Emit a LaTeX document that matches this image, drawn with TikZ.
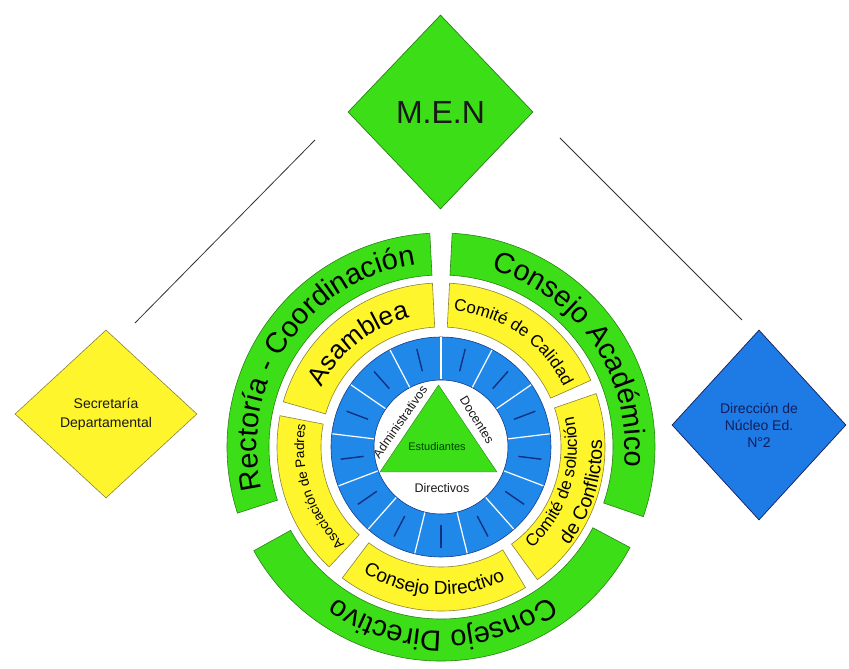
\documentclass[tikz,border=0pt]{standalone}
\usepackage{fontspec}
\setmainfont{Liberation Sans}
\usetikzlibrary{shapes.geometric,decorations.text}
\definecolor{gfill}{RGB}{60,222,24}
\definecolor{gline}{RGB}{40,130,20}
\definecolor{yfill}{RGB}{255,245,45}
\definecolor{yline}{RGB}{140,130,60}
\definecolor{bfill}{RGB}{32,136,232}
\definecolor{bline}{RGB}{20,60,140}
\definecolor{bmark}{RGB}{18,48,130}
\definecolor{dfill}{RGB}{30,122,228}
\definecolor{navy}{RGB}{20,30,90}
\definecolor{txt}{RGB}{25,25,25}
\newcommand\ringseg[5]{%
  \path[#1] (#2:#4) arc[start angle=#2,end angle=#3,radius=#4] -- (#3:#5) arc[start angle=#3,end angle=#2,radius=#5] -- cycle;}
\newcommand\arctext[5]{%
  \path[decorate,decoration={text along path,text align=center,text={|\fontsize{#4}{#4}\selectfont|#5}}] (#1:#3) arc[start angle=#1,end angle=#2,radius=#3];}
\tikzset{
  greenseg/.style={fill=gfill,draw=gline,line width=0.6pt},
  yellowseg/.style={fill=yfill,draw=yline,line width=0.6pt},
  conn/.style={draw=black!80,line width=0.8pt},
  trilabel/.style={font=\fontsize{12.5}{14}\selectfont,text=txt,inner sep=0pt},
}
\begin{document}
\begin{tikzpicture}[x=1pt,y=1pt]
\path[fill=white] (-441,-222) rectangle (408,447);
\useasboundingbox (-441,-222) rectangle (408,447);

% outer green ring
\ringseg{greenseg}{-19}{87}{172}{214}
\ringseg{greenseg}{93}{198}{172}{214}
\ringseg{greenseg}{209}{332}{172}{214}
\arctext{198}{93}{184}{29}{Rectoría - Coordinación}
\arctext{87}{-19}{184}{29}{Consejo Académico}
\arctext{332}{209}{184}{29}{Consejo Directivo}

% yellow ring
\ringseg{yellowseg}{24}{87}{120}{164}
\ringseg{yellowseg}{93}{164}{120}{164}
\ringseg{yellowseg}{169}{227}{120}{164}
\ringseg{yellowseg}{233}{301}{120}{164}
\ringseg{yellowseg}{306}{379}{120}{164}
\arctext{164}{93}{133}{26}{Asamblea}
\arctext{87}{24}{137}{17}{Comité de Calidad}
\arctext{227}{169}{137}{13.5}{Asociación de Padres}
\arctext{233}{301}{148}{19}{Consejo Directivo}
\arctext{306}{379}{136}{17}{Comité de solución}
\arctext{306}{379}{161}{19.5}{de Conflictos}

% blue ring
\path[fill=bfill,draw=bline,line width=0.6pt,even odd rule] (0,0) circle[radius=110] (0,0) circle[radius=67];
\foreach \k in {0,...,12}{
  \draw[white,line width=1.2pt] ({90+\k*360/13}:67.5) -- ({90+\k*360/13}:109.5);
  \draw[bmark,line width=1.4pt] ({90+(\k+0.5)*360/13}:78) -- ({90+(\k+0.5)*360/13}:101);
}

% triangle
\path[fill=gfill,draw=gline,line width=0.4pt] (-61,-25) -- (-2.5,62) -- (56,-25) -- cycle;
\node[trilabel,font=\fontsize{11}{13}\selectfont,text=black!75!green] (est) at (-4,0) {Estudiantes};
\node[trilabel,rotate=55] (adm) at (-41,25) {Administrativos};
\node[trilabel,rotate=-58] (doc) at (36,27) {Docentes};
\node[trilabel] (dir) at (1,-41) {Directivos};

% diamonds
\node[diamond,draw=gline,fill=gfill,line width=0.7pt,minimum width=185pt,minimum height=194pt,inner sep=0pt,
      font=\fontsize{32}{36}\selectfont,text=txt] (men) at (-0.5,335) {M.E.N};
\node[diamond,draw=yline,fill=yfill,line width=0.6pt,minimum width=182pt,minimum height=168pt,inner sep=0pt,
      font=\fontsize{14}{19}\selectfont,text=txt,align=center] (sec) at (-335,33) {Secretaría\\Departamental};
\node[diamond,draw=navy,fill=dfill,line width=0.7pt,minimum width=174pt,minimum height=190pt,inner sep=0pt,
      font=\fontsize{14}{17}\selectfont,text=navy,align=center] (nuc) at (318,22) {Dirección de\\Núcleo Ed.\\N°2};

% connectors (free ends)
\coordinate (l1a) at (-126,307);
\coordinate (l1b) at (-306,124);
\coordinate (l2a) at (119,309);
\coordinate (l2b) at (301,127);
\draw[conn] (l1a) -- (l1b);
\draw[conn] (l2a) -- (l2b);
\end{tikzpicture}
\end{document}
